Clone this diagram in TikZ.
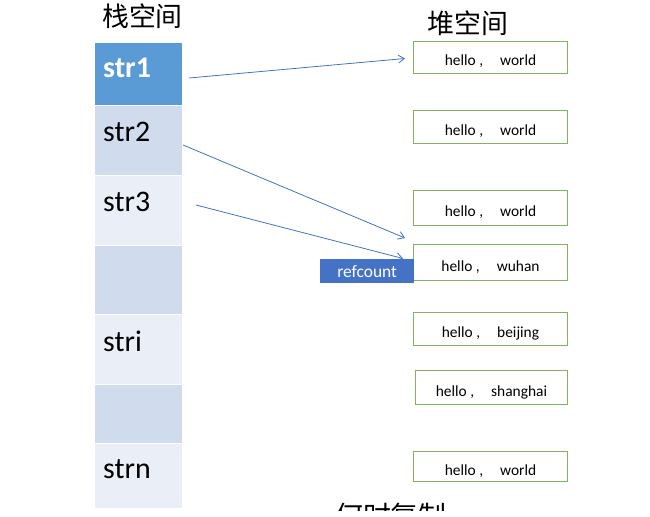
\documentclass[tikz,border=0pt]{standalone}
\usepackage{fontspec}
\setmainfont{Carlito}
\newfontfamily\cjk{Noto Sans CJK SC}
\usetikzlibrary{arrows.meta}
\definecolor{stackdark}{HTML}{5B9BD5}
\definecolor{stackmid}{HTML}{D0DCEE}
\definecolor{stacklight}{HTML}{E9EEF7}
\definecolor{heapgreen}{HTML}{80B35C}
\definecolor{arrowblue}{HTML}{4472C4}
\begin{document}
\begin{tikzpicture}[x=1bp,y=-1bp,
 cell/.style={draw=white, line width=1.2bp, minimum width=88bp, inner sep=0pt, anchor=north west},
 celltext/.style={anchor=base west, inner sep=0pt, font=\fontsize{30}{34}\selectfont},
 heapbox/.style={draw=heapgreen, line width=1bp, fill=white, inner sep=0pt, anchor=north west, minimum width=154bp, text height=17bp, text depth=0pt, font=\fontsize{15.5}{18}\selectfont},
 ptr/.style={draw=arrowblue, line width=0.8bp, -{Straight Barb[length=6bp,width=8bp]}},
 title/.style={font=\cjk\fontsize{27}{30}\selectfont, anchor=base west, inner sep=0pt}]
\useasboundingbox (0,0) rectangle (650,517);
% stack cells
\node[cell, fill=stackdark, minimum height=63bp] (c1) at (94,42) {};
\node[cell, fill=stackmid, minimum height=70bp] (c2) at (94,105) {};
\node[cell, fill=stacklight, minimum height=70bp] (c3) at (94,175) {};
\node[cell, fill=stackmid, minimum height=69bp] (c4) at (94,245) {};
\node[cell, fill=stacklight, minimum height=70bp] (c5) at (94,314) {};
\node[cell, fill=stackmid, minimum height=59bp] (c6) at (94,384) {};
\node[cell, fill=stacklight, minimum height=65bp] (c7) at (94,443) {};
% stack labels
\node[celltext, text=white, font=\bfseries\fontsize{30}{34}\selectfont] (t1) at (103,78) {str1};
\node[celltext] (t2) at (103,142) {str2};
\node[celltext] (t3) at (103,212) {str3};
\node[celltext] (t5) at (103,351) {stri};
\node[celltext] (t7) at (103,478) {strn};
% titles
\node[title] (stack) at (102,27) {栈空间};
\node[title] (heap) at (427,34) {堆空间};
% heap boxes
\node[heapbox, minimum height=32bp] (h1) at (413,41) {hello ,\hspace{17bp}world};
\node[heapbox, minimum height=33bp] (h2) at (413,110) {hello ,\hspace{17bp}world};
\node[heapbox, minimum height=35bp] (h3) at (413,190) {hello ,\hspace{17bp}world};
\node[heapbox, minimum height=36bp] (h4) at (413,244) {hello ,\hspace{17bp}wuhan};
\node[heapbox, minimum height=33bp] (h5) at (413,312) {hello ,\hspace{17bp}beijing};
\node[heapbox, minimum height=34bp, minimum width=152bp] (h6) at (415,370) {hello ,\hspace{17bp}shanghai};
\node[heapbox, minimum height=30bp] (h7) at (413,451) {hello ,\hspace{17bp}world};
% refcount
\node[fill=arrowblue, text=white, minimum width=94bp, minimum height=24bp, anchor=north west, inner sep=0pt, font=\fontsize{17.5}{20}\selectfont] (rc) at (320,259) {refcount};
% pointers
\coordinate (p1) at (189,78);
\coordinate (p2) at (183,145);
\coordinate (p3) at (196,205);
\draw[ptr] (p1) -- ([shift={(-8,1)}]h1.west);
\draw[ptr] (p2) -- ([shift={(-8,-6)}]h4.north west);
\draw[ptr] (p3) -- ([shift={(-10,-4)}]h4.west);
% clipped note
\begin{scope}
\clip (0,0) rectangle (650,510);
\node[font=\cjk\fontsize{28}{30}\selectfont, anchor=base west, inner sep=0pt] (note) at (335,526) {何时复制};
\end{scope}
\end{tikzpicture}
\end{document}
